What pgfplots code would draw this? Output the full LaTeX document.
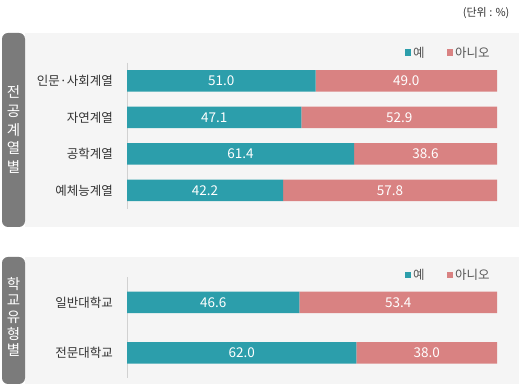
\documentclass[border=0pt]{standalone}
\usepackage{pgfplots}
\pgfplotsset{compat=1.18}
\usepackage{fontspec}
\setmainfont{Noto Sans CJK KR}
\definecolor{tealM}{HTML}{2C9EAB}
\definecolor{pinkM}{HTML}{D98282}
\definecolor{tabgray}{HTML}{7B7B7B}
\definecolor{panelbg}{HTML}{F5F5F5}
\definecolor{txt}{HTML}{333333}
\definecolor{legtxt}{HTML}{555555}

\pgfplotsset{
  base/.style={
    scale only axis, width=370pt, xmin=0, xmax=100, y dir=reverse,
    anchor=north west,
  },
  barax/.style={
    base, xbar stacked, bar width=21.5pt,
    axis x line=none, axis y line*=left,
    y axis line style={draw=black!18, line width=0.8pt},
    major tick length=0pt, ytick style={draw=none},
    yticklabel style={font=\fontsize{12.5}{15}\selectfont, text=txt, inner sep=0pt, xshift=-14pt},
    legend style={draw=none, fill=none, inner sep=0pt, legend columns=2,
      font=\fontsize{12.5}{14}\selectfont, text=legtxt,
      /tikz/every even column/.append style={column sep=20pt}},
    legend image code/.code={\fill[##1] (0pt,-3pt) rectangle (6.5pt,3.5pt);},
  },
  labax/.style={
    base, hide axis,
    every node near coord/.append style={anchor=center, text=white, font=\fontsize{13.5}{15}\selectfont},
  },
  yes/.style={draw=none, fill=tealM},
  no/.style={draw=none, fill=pinkM},
}

\begin{document}
\begin{tikzpicture}[x=1pt,y=1pt]
\useasboundingbox (0,0) rectangle (522,387);
% unit
\node[anchor=east, font=\fontsize{11}{13}\selectfont, text=txt] at (513,387-13) {(단위 : \%)};
% panel 1
\fill[panelbg] (25,387-33) rectangle (519,387-227);
\fill[tabgray, rounded corners=6pt] (25,387-33) -- (2,387-33) -- (2,387-227) -- (25,387-227) -- cycle;
\node[align=center, text=white, font=\fontsize{14.5}{18.7}\selectfont] at (13.5,387-129.5) {전\\공\\계\\열\\별};
% panel 2
\fill[panelbg] (25,387-257) rectangle (519,387-384);
\fill[tabgray, rounded corners=6pt] (25,387-257) -- (2,387-257) -- (2,387-384) -- (25,387-384) -- cycle;
\node[align=center, text=white, font=\fontsize{14.5}{16.7}\selectfont] at (13.5,387-317) {학\\교\\유\\형\\별};

\begin{axis}[barax, at={(127pt,324.25pt)}, height=146pt, ymin=-0.5, ymax=3.5,
  ytick={0,1,2,3}, yticklabels={인문·사회계열,자연계열,공학계열,예체능계열},
  legend style={at={(axis description cs:0.986,1.067)}, anchor=east}]
\addplot[yes] coordinates {(51.0,0) (47.1,1) (61.4,2) (42.2,3)};
\addplot[no] coordinates {(49.0,0) (52.9,1) (38.6,2) (57.8,3)};
\legend{예,아니오}
\end{axis}
\begin{axis}[labax, at={(127pt,324.25pt)}, height=146pt, ymin=-0.5, ymax=3.5]
\addplot[draw=none, nodes near coords, point meta=explicit symbolic] coordinates {
 (25.5,0) [51.0] (75.5,0) [49.0]
 (23.55,1) [47.1] (73.55,1) [52.9]
 (30.7,2) [61.4] (80.7,2) [38.6]
 (21.1,3) [42.2] (71.1,3) [57.8]};
\end{axis}

\begin{axis}[barax, at={(127pt,109.75pt)}, height=101pt, ymin=-0.5, ymax=1.5,
  ytick={0,1}, yticklabels={일반대학교,전문대학교},
  legend style={at={(axis description cs:0.986,1.022)}, anchor=east}]
\addplot[yes] coordinates {(46.6,0) (62.0,1)};
\addplot[no] coordinates {(53.4,0) (38.0,1)};
\legend{예,아니오}
\end{axis}
\begin{axis}[labax, at={(127pt,109.75pt)}, height=101pt, ymin=-0.5, ymax=1.5]
\addplot[draw=none, nodes near coords, point meta=explicit symbolic] coordinates {
 (23.3,0) [46.6] (73.3,0) [53.4]
 (31.0,1) [62.0] (81.0,1) [38.0]};
\end{axis}
\end{tikzpicture}
\end{document}
